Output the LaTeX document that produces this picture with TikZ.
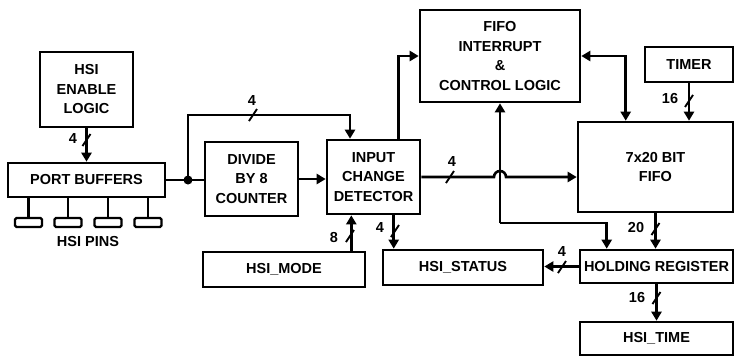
\documentclass[tikz,border=0pt]{standalone}
\usepackage{fontspec}
\setmainfont{Liberation Sans}
\usetikzlibrary{arrows.meta,calc}
\begin{document}
\begin{tikzpicture}[x=1pt,y=-1pt,
  every node/.style={font=\fontsize{14.5}{19.5}\selectfont\bfseries},
  box/.style={draw,line width=2.6pt,align=center,inner sep=0pt},
  wire/.style={line width=2.6pt},
  arr/.style={wire,-{Triangle[length=9pt,width=10pt]}},
  darr/.style={wire,{Triangle[length=9pt,width=10pt]}-{Triangle[length=9pt,width=10pt]}},
  pinbox/.style={draw,line width=2.2pt,rounded corners=1.5pt,minimum width=27pt,minimum height=9pt,inner sep=0pt},
  lbl/.style={inner sep=0pt},
  busslash/.pic={\draw[line width=1.9pt] (-4,6) -- (4,-6);}
]
\useasboundingbox (0,0) rectangle (738,357);

% boxes
\node[box,minimum width=93pt,minimum height=75pt] (hsie) at (86.5,89.5) {HSI\\ENABLE\\LOGIC};
\node[box,minimum width=157pt,minimum height=34pt] (port) at (86.5,180) {PORT BUFFERS};
\node[box,minimum width=93pt,minimum height=74pt] (div) at (251.5,179) {DIVIDE\\BY 8\\COUNTER};
\node[box,minimum width=93pt,minimum height=74pt] (icd) at (373.5,177) {INPUT\\CHANGE\\DETECTOR};
\node[box,minimum width=160pt,minimum height=92pt] (fint) at (500,56) {FIFO\\INTERRUPT\\\&\\CONTROL LOGIC};
\node[box,minimum width=88pt,minimum height=35pt] (timer) at (689,64.5) {TIMER};
\node[box,minimum width=155pt,minimum height=90pt] (fifo) at (655.5,167) {7x20 BIT\\FIFO};
\node[box,minimum width=153pt,minimum height=33pt] (hold) at (656.5,266.5) {HOLDING REGISTER};
\node[box,minimum width=160pt,minimum height=35pt] (status) at (463,267.5) {HSI\_STATUS};
\node[box,minimum width=162pt,minimum height=35pt] (mode) at (284,269.5) {HSI\_MODE};
\node[box,minimum width=153pt,minimum height=33pt] (time) at (656.5,338.5) {HSI\_TIME};

% pins
\node[pinbox] (pin1) at (28.5,222.5) {};
\node[pinbox] (pin2) at (68,222.5) {};
\node[pinbox] (pin3) at (108,222.5) {};
\node[pinbox] (pin4) at (148,222.5) {};
\foreach \p in {pin1,pin2,pin3,pin4}
  \draw[line width=2.2pt] (\p.north |- port.south) -- (\p.north);
\node (pins) at (88,241) {HSI PINS};

% enable -> port
\draw[arr] (hsie.south) -- (port.north);
\pic at (86.5,140) {busslash};
\node[lbl] (l1) at (73,139) {4};

% port -> junction -> divide
\coordinate (j) at (188,180);
\draw[wire] (port.east) -- (j) -- (j -| div.west);
\fill (j) circle (4.5pt);

% junction -> top bus -> icd
\coordinate (tb) at (350,115);
\draw[arr] (j) |- (tb) -- (tb |- icd.north);
\pic at (253,115) {busslash};
\node[lbl] (l2) at (252,101) {4};

% divide -> icd
\draw[arr] (div.east) -- (div.east -| icd.west);

% icd -> fifo interrupt
\coordinate (it) at ([xshift=-23pt]icd.north east);
\draw[arr] (it) |- (fint.west);

% icd -> fifo with hop
\draw[arr] (icd.east) -- (494,177) arc[start angle=180,end angle=360,radius=6] -- (icd.east -| fifo.west);
\pic at (450,177) {busslash};
\node[lbl] (l3) at (452,162) {4};

% vertical bus to fint and holding register
\coordinate (c2) at (500,223);
\draw[arr] (c2) -- (fint.south);
\coordinate (hn) at ([xshift=28pt]hold.north west);
\draw[arr] (c2) -| (hn);

% fint <-> fifo
\coordinate (fn) at ([xshift=49pt]fifo.north west);
\draw[darr] (fint.east) -| (fn);

% timer -> fifo
\draw[arr] (timer.south) -- (timer.south |- fifo.north);
\pic at (689,101) {busslash};
\node[lbl] (l4) at (670,99) {16};

% fifo -> holding
\draw[arr] (fifo.south) -- (fifo.south |- hold.north);
\pic at (655.5,229) {busslash};
\node[lbl] (l5) at (636,228) {20};

% holding -> status
\draw[arr] (hold.west) -- (hold.west -| status.east);
\pic at (562,267) {busslash};
\node[lbl] (l6) at (562,252) {4};

% icd -> status
\coordinate (s1) at ([xshift=12pt]status.north west);
\draw[arr] (s1 |- icd.south) -- (s1);
\pic at (395,231) {busslash};
\node[lbl] (l7) at (380,228) {4};

% mode -> icd
\coordinate (m1) at ([xshift=-15pt]mode.north east);
\draw[arr] (m1) -- (m1 |- icd.south);
\pic at (350,236) {busslash};
\node[lbl] (l8) at (334,238) {8};

% holding -> time
\draw[arr] (hold.south) -- (hold.south |- time.north);
\pic at (656.5,298) {busslash};
\node[lbl] (l9) at (637,297) {16};
\end{tikzpicture}
\end{document}
